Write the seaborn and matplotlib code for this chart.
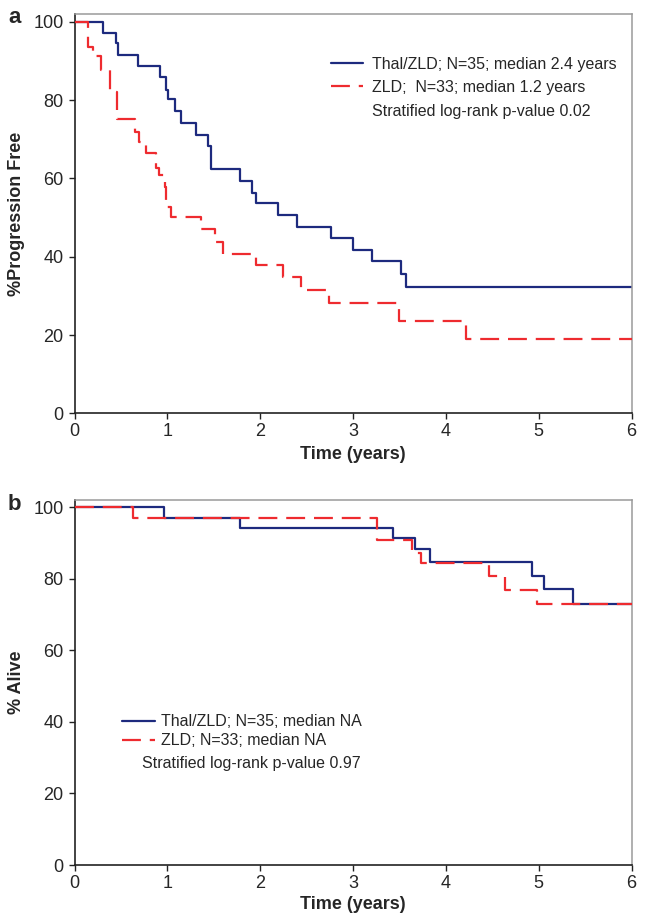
import numpy as np
import pandas as pd
import matplotlib
matplotlib.use("Agg")
import matplotlib.pyplot as plt
import seaborn as sns

# ---------------- data ----------------
year_ticks = [0, 1, 2, 3, 4, 5, 6]
pct_ticks = [0, 20, 40, 60, 80, 100]
end_of_followup = 6.0

groups = ["Thal/ZLD", "ZLD"]

# Panel a: progression-free survival (step times in years, % progression free)
pfs_thal_t = [0, 0.305, 0.444, 0.47, 0.688, 0.917, 0.99, 1.01, 1.08, 1.15, 1.306, 1.44,
              1.475, 1.78, 1.917, 1.95, 2.197, 2.40, 2.76, 2.995, 3.20, 3.52, 3.57]
pfs_thal_v = [100, 97.1, 94.5, 91.5, 88.6, 85.8, 82.7, 80.2, 77.2, 74.2, 71.2, 68.3,
              62.3, 59.4, 56.3, 53.6, 50.6, 47.6, 44.7, 41.7, 38.8, 35.6, 32.3]
pfs_zld_t = [0, 0.145, 0.20, 0.29, 0.38, 0.46, 0.65, 0.69, 0.775, 0.88, 0.91, 0.97,
             0.99, 1.04, 1.367, 1.51, 1.60, 1.95, 2.25, 2.445, 2.74, 3.50, 4.215]
pfs_zld_v = [100, 93.6, 91.2, 87.7, 82.1, 75.3, 71.9, 69.3, 66.4, 62.6, 61.0, 57.9,
             52.7, 50.2, 47.2, 43.8, 40.8, 37.9, 34.7, 31.6, 28.2, 23.5, 18.9]

# Panel b: overall survival
os_thal_t = [0, 0.963, 1.78, 3.43, 3.67, 3.83, 4.93, 5.06, 5.37]
os_thal_v = [100, 97.1, 94.2, 91.3, 88.2, 84.8, 80.9, 77.1, 73.0]
os_zld_t = [0, 0.63, 3.26, 3.64, 3.73, 4.47, 4.64, 4.98]
os_zld_v = [100, 96.9, 90.9, 87.3, 84.4, 80.7, 76.8, 73.0]

legend_a = ["Thal/ZLD; N=35; median 2.4 years", "ZLD;  N=33; median 1.2 years"]
legend_b = ["Thal/ZLD; N=35; median NA", "ZLD; N=33; median NA"]
pval_a = "Stratified log-rank p-value 0.02"
pval_b = "Stratified log-rank p-value 0.97"

BLUE = "#1d2a7e"
RED = "#ee2b2f"


def km_frame(series):
    rows = []
    for g, t, v in series:
        tt = list(t) + [end_of_followup]
        vv = list(v) + [v[-1]]
        rows.append(pd.DataFrame({"time": tt, "pct": vv, "group": g}))
    return pd.concat(rows, ignore_index=True)


df_a = km_frame([(groups[0], pfs_thal_t, pfs_thal_v), (groups[1], pfs_zld_t, pfs_zld_v)])
df_b = km_frame([(groups[0], os_thal_t, os_thal_v), (groups[1], os_zld_t, os_zld_v)])

sns.set_style("ticks")
plt.rcParams["font.family"] = ["Liberation Sans", "DejaVu Sans"]

W, H = 654, 922
fig = plt.figure(figsize=(W / 100, H / 100), dpi=100)
ax_a = fig.add_axes([74.5 / W, 1 - 413.3 / H, 557 / W, 399.3 / H])
ax_b = fig.add_axes([74.5 / W, 1 - 865 / H, 557 / W, 365 / H])

palette = {groups[0]: BLUE, groups[1]: RED}
dashes = {groups[0]: "", groups[1]: (8.5, 4.0)}


def draw(ax, df, ylabel, leg_labels, pval, leg_xy, hl, htp, lspace, pval_xy, xlpad):
    sns.lineplot(data=df, x="time", y="pct", hue="group", style="group",
                 palette=palette, dashes=dashes, drawstyle="steps-post",
                 estimator=None, sort=False, linewidth=1.6, legend=False, ax=ax)
    lines = ax.get_lines()
    for ln in lines:
        if matplotlib.colors.same_color(ln.get_color(), RED):
            ln.set_zorder(3)
        else:
            ln.set_zorder(2)
    ax.set_xlim(0, 6)
    ax.set_ylim(0, 102)
    ax.set_xticks(year_ticks)
    ax.set_yticks(pct_ticks)
    ax.tick_params(axis="both", labelsize=13, length=4.3, width=1, color="#222222",
                   direction="out")
    ax.tick_params(axis="x", pad=3)
    ax.tick_params(axis="y", pad=3.5)
    for side in ["left", "bottom"]:
        ax.spines[side].set_color("#222222")
        ax.spines[side].set_linewidth(1.2)
    for side in ["top", "right"]:
        ax.spines[side].set_color("#9a9a9a")
        ax.spines[side].set_linewidth(1.1)
        ax.spines[side].set_visible(True)
    ax.set_xlabel("Time (years)", fontsize=13, fontweight="bold", labelpad=xlpad)
    ax.set_ylabel(ylabel, fontsize=13, fontweight="bold")
    ax.yaxis.set_label_coords(-0.088, 0.5)
    ax.grid(False)
    ax.legend(handles=lines[:2], labels=leg_labels, loc="center left",
              bbox_to_anchor=leg_xy, frameon=False, fontsize=11.5,
              handlelength=hl, handletextpad=htp, labelspacing=lspace,
              borderpad=0, borderaxespad=0)
    ax.text(pval_xy[0], pval_xy[1], pval, transform=ax.transAxes, fontsize=11.5,
            va="baseline", ha="left")


draw(ax_a, df_a, "%Progression Free", legend_a, pval_a,
     (0.46, 0.845), 2.04, 0.53, 0.5, (0.534, 0.744), 4)
draw(ax_b, df_b, "% Alive", legend_b, pval_b,
     (0.085, 0.366), 2.08, 0.36, 0.25, (0.1207, 0.265), 2.5)

fig.text(8 / W, 1 - 22.7 / H, "a", fontsize=16, fontweight="bold", va="baseline")
fig.text(8 / W, 1 - 510 / H, "b", fontsize=16, fontweight="bold", va="baseline")

fig.savefig("out.png", dpi=100)
